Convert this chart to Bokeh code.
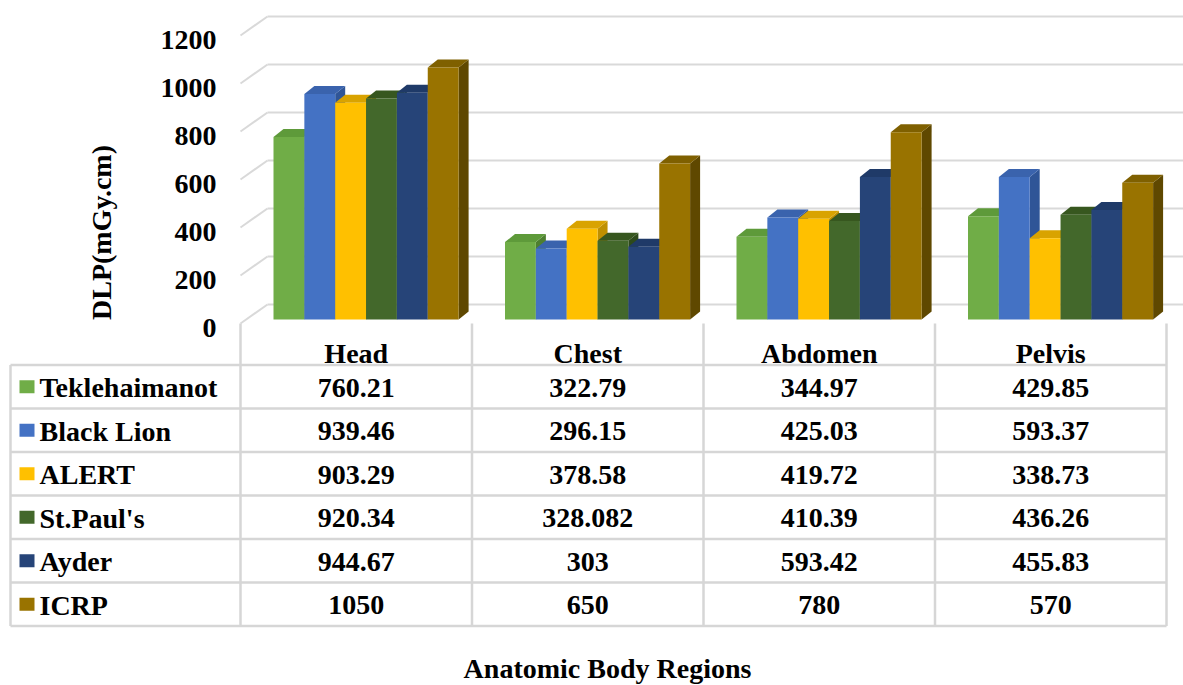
import math
from bokeh.plotting import figure
from bokeh.models import Range1d
from bokeh.core.properties import value
from bokeh.embed import file_html
from bokeh.resources import INLINE

# ---------------- data ----------------
categories = ["Head", "Chest", "Abdomen", "Pelvis"]
series_names = ["Teklehaimanot", "Black Lion", "ALERT", "St.Paul's", "Ayder", "ICRP"]
teklehaimanot = [760.21, 322.79, 344.97, 429.85]
black_lion = [939.46, 296.15, 425.03, 593.37]
alert = [903.29, 378.58, 419.72, 338.73]
st_pauls = [920.34, 328.082, 410.39, 436.26]
ayder = [944.67, 303, 593.42, 455.83]
icrp = [1050, 650, 780, 570]
y_ticks = [0, 200, 400, 600, 800, 1000, 1200]
y_title = "DLP(mGy.cm)"
x_title = "Anatomic Body Regions"

series_values = [teklehaimanot, black_lion, alert, st_pauls, ayder, icrp]
front_colors = ["#70AD47", "#4472C4", "#FFC000", "#43682B", "#264478", "#997300"]
top_colors = ["#5E9A3A", "#3A63AD", "#D9A300", "#37571F", "#1F3A68", "#7F6000"]
side_colors = ["#4E7F30", "#2F5597", "#BF9000", "#2D4A1A", "#19305A", "#5F4800"]

# ---------------- layout (pixels) ----------------
W, H = 1183, 685
SCALE = 0.24          # px per DLP unit
BAR0 = 319            # screen y of bar zero
FRONT0 = 323          # screen y of front floor edge
BACK0 = 304           # screen y of back wall zero
WALL_X0, WALL_X1, WALL_END = 240, 267, 1183
COL0, COLW = 240.0, 231.5
BAR_OFF, BW = 33.0, 30.85
DX, DYPX = 10.0, 8.0
FONT = value("Times New Roman, Liberation Serif, serif")
FS = "28px"
TXT_SHIFT = 9.0       # renderer baseline correction (px)


def ydat(px):
    return (BAR0 - px) / SCALE


def ytxt(px):
    return ydat(px - TXT_SHIFT)


p = figure(width=W, height=H, output_backend="svg", toolbar_location=None,
           x_axis_location=None, y_axis_location=None, min_border=0,
           x_range=Range1d(0, W), y_range=Range1d(ydat(H), ydat(0)))
p.grid.visible = False
p.outline_line_color = None
p.background_fill_color = "white"
p.border_fill_color = "white"

GRID = "#D9D9D9"
back_off = (BAR0 - BACK0) / SCALE
front_off = (BAR0 - FRONT0) / SCALE

# back wall gridlines and left wall diagonals
p.segment(x0=[WALL_X1] * len(y_ticks), x1=[WALL_END] * len(y_ticks),
          y0=[t + back_off for t in y_ticks], y1=[t + back_off for t in y_ticks],
          line_color=GRID, line_width=2)
p.segment(x0=[WALL_X0] * len(y_ticks), x1=[WALL_X1] * len(y_ticks),
          y0=[t + front_off for t in y_ticks], y1=[t + back_off for t in y_ticks],
          line_color=GRID, line_width=2)

# tick labels
p.text(x=[216] * len(y_ticks), y=[ytxt(FRONT0 - t * SCALE + 13) for t in y_ticks],
       text=[str(t) for t in y_ticks], text_align="right", text_baseline="alphabetic",
       text_font=FONT, text_font_style="bold", text_font_size=FS, text_color="black")

# 3D bars
DY = DYPX / SCALE
for s, vals in enumerate(series_values):
    lefts = [COL0 + g * COLW + BAR_OFF + s * BW for g in range(len(categories))]
    rights = [l + BW for l in lefts]
    side_xs = [[r, r + DX, r + DX, r] for r in rights]
    side_ys = [[0, DY, v + DY, v] for v in vals]
    top_xs = [[l, r, r + DX, l + DX] for l, r in zip(lefts, rights)]
    top_ys = [[v, v, v + DY, v + DY] for v in vals]
    p.patches(xs=side_xs, ys=side_ys, fill_color=side_colors[s], line_color=None)
    p.patches(xs=top_xs, ys=top_ys, fill_color=top_colors[s], line_color=None)
    p.quad(left=lefts, right=rights, bottom=[0] * len(vals), top=vals,
           fill_color=front_colors[s], line_color=None)

# data table
HDR_BOT = 364.5
ROW_H = 43.5
TABLE_L = 10
n_rows = len(series_names)
col_edges = [COL0 + i * COLW for i in range(len(categories) + 1)]
row_lines = [HDR_BOT + i * ROW_H for i in range(n_rows + 1)]
TABLE_B = row_lines[-1]
TLINE = "#D6D6D6"
p.segment(x0=[TABLE_L] * len(row_lines), x1=[col_edges[-1]] * len(row_lines),
          y0=[ydat(y) for y in row_lines], y1=[ydat(y) for y in row_lines],
          line_color=TLINE, line_width=2.5)
p.segment(x0=[TABLE_L] + col_edges, x1=[TABLE_L] + col_edges,
          y0=[ydat(HDR_BOT)] + [ydat(FRONT0)] * len(col_edges),
          y1=[ydat(TABLE_B)] * (len(col_edges) + 1),
          line_color=TLINE, line_width=2.5)

centers = [COL0 + (g + 0.5) * COLW for g in range(len(categories))]
p.text(x=centers, y=[ytxt(362)] * len(categories), text=categories,
       text_align="center", text_baseline="alphabetic",
       text_font=FONT, text_font_style="bold", text_font_size=FS, text_color="black")

row_centers = [HDR_BOT + (i + 0.5) * ROW_H for i in range(n_rows)]
tx, ty, tt = [], [], []
for s, vals in enumerate(series_values):
    for g, v in enumerate(vals):
        tx.append(centers[g])
        ty.append(ytxt(row_centers[s] + 10))
        tt.append(f"{v:g}")
p.text(x=tx, y=ty, text=tt, text_align="center", text_baseline="alphabetic",
       text_font=FONT, text_font_style="bold", text_font_size=FS, text_color="black")

# legend keys and names
p.rect(x=[26.5] * n_rows, y=[ydat(c) for c in row_centers], width=15, height=13 / SCALE,
       fill_color=front_colors, line_color=None)
p.text(x=[39] * n_rows, y=[ytxt(c + 10) for c in row_centers], text=series_names,
       text_align="left", text_baseline="alphabetic",
       text_font=FONT, text_font_style="bold", text_font_size=FS, text_color="black")

# axis titles
p.text(x=[101], y=[ydat(232)], text=[y_title], angle=math.pi / 2,
       text_align="center", text_baseline="middle",
       text_font=FONT, text_font_style="bold", text_font_size=FS, text_color="black")
p.text(x=[607], y=[ytxt(677)], text=[x_title], text_align="center",
       text_baseline="alphabetic",
       text_font=FONT, text_font_style="bold", text_font_size=FS, text_color="black")

open("out.html", "w").write(file_html(p, INLINE))
